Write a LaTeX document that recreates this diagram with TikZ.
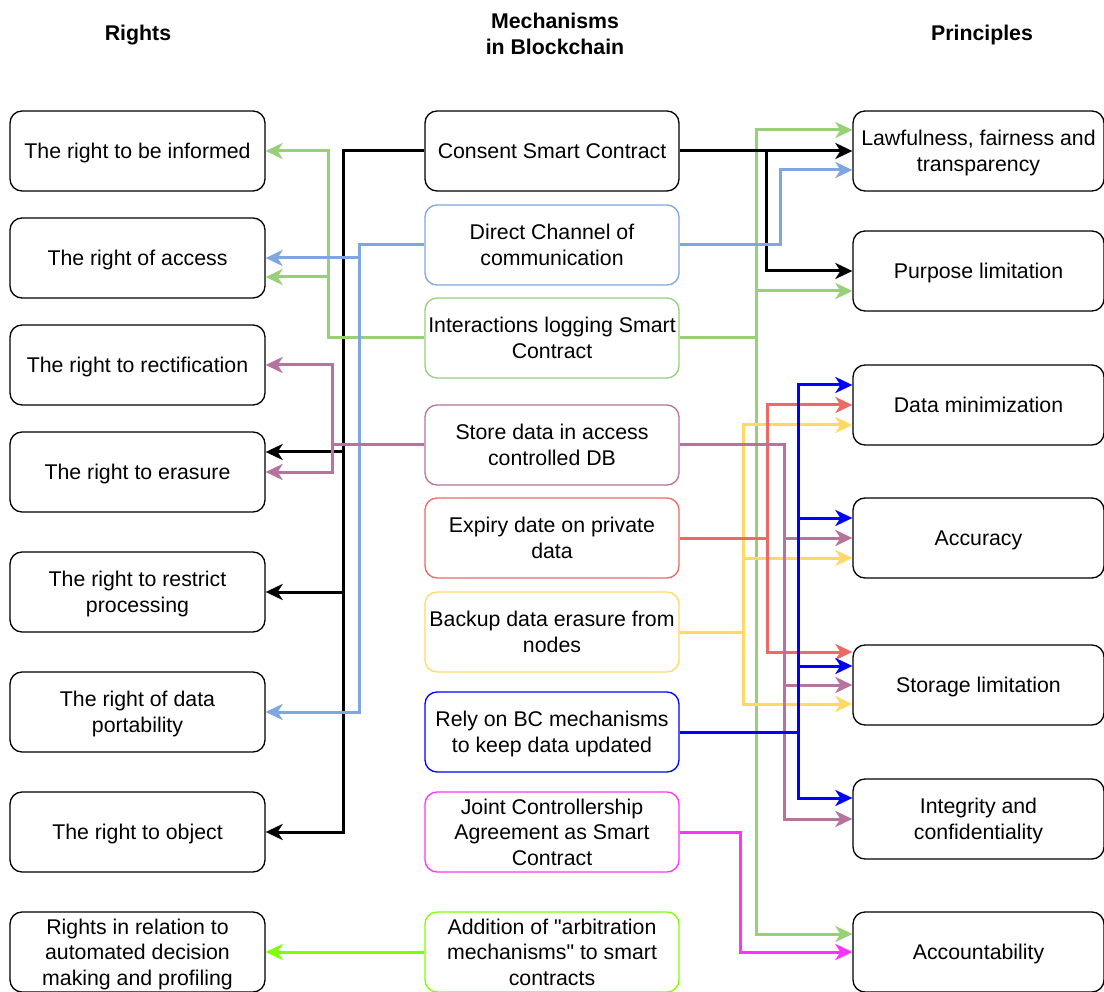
\documentclass[tikz,border=0pt]{standalone}
\usepackage{fontspec}
\setmainfont{Liberation Sans}
\usetikzlibrary{arrows.meta,calc}

\definecolor{cLBlue}{HTML}{7EA6E0}
\definecolor{cGreen}{HTML}{97D077}
\definecolor{cPurple}{HTML}{B5739D}
\definecolor{cRed}{HTML}{EA6B66}
\definecolor{cYellow}{HTML}{FFD966}
\definecolor{cBlue}{HTML}{0000FF}
\definecolor{cMagenta}{HTML}{FF33FF}
\definecolor{cLime}{HTML}{80FF00}

\tikzset{
  txt/.style={font=\fontsize{21.3}{25.6}\selectfont},
  head/.style={font=\fontsize{21.3}{25.6}\selectfont\bfseries, align=center},
  box/.style={draw, txt, rounded corners=12pt, minimum height=80pt,
    align=center, line width=1.3pt, fill=white, inner sep=2pt,
    text depth=0pt},
  lbox/.style={box, minimum width=255pt},
  mbox/.style={box, minimum width=254pt},
  rbox/.style={box, minimum width=251pt},
  link/.style={line width=3pt,
    -{Stealth[length=17pt,width=16pt,inset=5pt]}},
}

\begin{document}
\begin{tikzpicture}[x=1pt,y=-1pt]
\useasboundingbox (0,0) rectangle (1104,992);

% column headings
\node[head] (hR) at (138,35) {Rights};
\node[head] (hM) at (555,34) {Mechanisms\\in Blockchain};
\node[head] (hP) at (982,35) {Principles};

% rights
\node[lbox] (l1) at (137.5,151) {The right to be informed};
\node[lbox] (l2) at (137.5,258) {The right of access};
\node[lbox] (l3) at (137.5,365) {The right to rectification};
\node[lbox] (l4) at (137.5,472) {The right to erasure};
\node[lbox] (l5) at (137.5,592) {The right to restrict\\processing};
\node[lbox] (l6) at (137.5,712) {The right of data\\portability};
\node[lbox] (l7) at (137.5,832) {The right to object};
\node[lbox] (l8) at (137.5,952) {Rights in relation to\\automated decision\\making and profiling};

% mechanisms
\node[mbox] (m1) at (552,151) {Consent Smart Contract};
\node[mbox, draw=cLBlue] (m2) at (552,245) {Direct Channel of\\communication};
\node[mbox, draw=cGreen] (m3) at (552,338) {Interactions logging Smart\\Contract};
\node[mbox, draw=cPurple] (m4) at (552,445) {Store data in access\\controlled DB};
\node[mbox, draw=cRed] (m5) at (552,538) {Expiry date on private\\data};
\node[mbox, draw=cYellow] (m6) at (552,632) {Backup data erasure from\\nodes};
\node[mbox, draw=cBlue] (m7) at (552,732) {Rely on BC mechanisms\\to keep data updated};
\node[mbox, draw=cMagenta] (m8) at (552,832) {Joint Controllership\\Agreement as Smart\\Contract};
\node[mbox, draw=cLime] (m9) at (552,952) {Addition of \textquotedbl arbitration\\mechanisms\textquotedbl{} to smart\\contracts};

% principles
\node[rbox] (r1) at (978.5,151) {Lawfulness, fairness and\\transparency};
\node[rbox] (r2) at (978.5,271) {Purpose limitation};
\node[rbox] (r3) at (978.5,405) {Data minimization};
\node[rbox] (r4) at (978.5,538) {Accuracy};
\node[rbox] (r5) at (978.5,685) {Storage limitation};
\node[rbox] (r6) at (978.5,819) {Integrity and\\confidentiality};
\node[rbox] (r7) at (978.5,952) {Accountability};

% vertical bus positions
\coordinate (kL) at (343,0);
\coordinate (gL) at (328,0);
\coordinate (bL) at (359,0);
\coordinate (pL) at (332,0);
\coordinate (kR) at (766,0);
\coordinate (gR) at (756,0);
\coordinate (bR) at (780,0);
\coordinate (pR) at (784,0);
\coordinate (rR) at (767,0);
\coordinate (yR) at (743,0);
\coordinate (uR) at (798,0);
\coordinate (mR) at (740,0);

% mechanisms -> rights
\draw[link] (m1.west) -- (m1.west -| kL) |- ($(l4.east)+(0,-20)$);
\draw[link] (m1.west) -- (m1.west -| kL) |- (l5.east);
\draw[link] (m1.west) -- (m1.west -| kL) |- (l7.east);

\draw[link, cGreen] (m3.west) -- (m3.west -| gL) |- (l1.east);
\draw[link, cGreen] (m3.west) -- (m3.west -| gL) |- ($(l2.east)+(0,19)$);

\draw[link, cLBlue] (m2.west) -- (m2.west -| bL) |- (l2.east);
\draw[link, cLBlue] (m2.west) -- (m2.west -| bL) |- (l6.east);

\draw[link, cPurple] (m4.west) -- (m4.west -| pL) |- (l3.east);
\draw[link, cPurple] (m4.west) -- (m4.west -| pL) |- (l4.east);

\draw[link, cLime] (m9.west) -- (l8.east);

% mechanisms -> principles
\draw[link, cGreen] (m3.east) -- (m3.east -| gR) |- ($(r1.west)+(0,-21)$);
\draw[link, cGreen] (m3.east) -- (m3.east -| gR) |- ($(r2.west)+(0,20)$);
\draw[link, cGreen] (m3.east) -- (m3.east -| gR) |- ($(r7.west)+(0,-18)$);

\draw[link] (m1.east) -- (r1.west);
\draw[link] (m1.east) -- (m1.east -| kR) |- (r2.west);

\draw[link, cLBlue] (m2.east) -- (m2.east -| bR) |- ($(r1.west)+(0,19)$);

\draw[link, cYellow] (m6.east) -- (m6.east -| yR) |- ($(r3.west)+(0,20)$);
\draw[link, cYellow] (m6.east) -- (m6.east -| yR) |- ($(r4.west)+(0,20)$);
\draw[link, cYellow] (m6.east) -- (m6.east -| yR) |- ($(r5.west)+(0,19)$);

\draw[link, cRed] (m5.east) -- (m5.east -| rR) |- (r3.west);
\draw[link, cRed] (m5.east) -- (m5.east -| rR) |- ($(r5.west)+(0,-33)$);

\draw[link, cPurple] (m4.east) -- (m4.east -| pR) |- (r4.west);
\draw[link, cPurple] (m4.east) -- (m4.east -| pR) |- (r5.west);
\draw[link, cPurple] (m4.east) -- (m4.east -| pR) |- (r6.west);

\draw[link, cBlue] (m7.east) -- (m7.east -| uR) |- ($(r3.west)+(0,-20)$);
\draw[link, cBlue] (m7.east) -- (m7.east -| uR) |- ($(r4.west)+(0,-20)$);
\draw[link, cBlue] (m7.east) -- (m7.east -| uR) |- ($(r5.west)+(0,-19)$);
\draw[link, cBlue] (m7.east) -- (m7.east -| uR) |- ($(r6.west)+(0,-21)$);

\draw[link, cMagenta] (m8.east) -- (m8.east -| mR) |- (r7.west);
\end{tikzpicture}
\end{document}
